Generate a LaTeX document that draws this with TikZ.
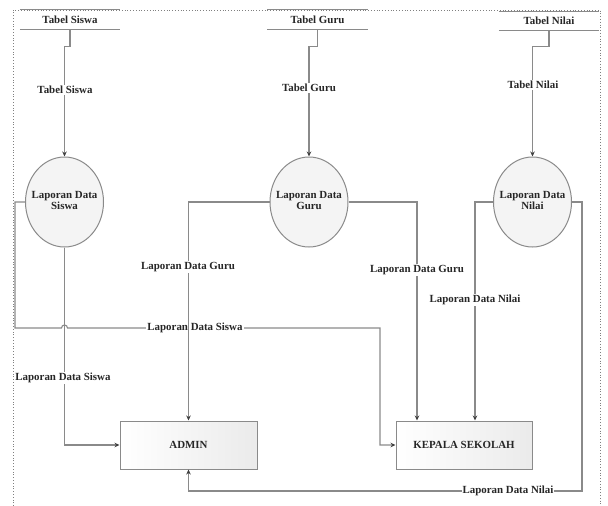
\documentclass[tikz,border=0pt]{standalone}
\usepackage{fontspec}
\setmainfont{Liberation Serif}
\usetikzlibrary{arrows.meta,shapes.geometric}
\definecolor{ln}{HTML}{8A8A8A}
\definecolor{tip}{HTML}{404040}
\newcommand{\proctext}[2]{\makebox[0pt][c]{\begin{tabular}{@{}c@{}}#1\\[-1pt]#2\end{tabular}}}
\begin{document}
\begin{tikzpicture}[x=1pt,y=-1pt,
  every node/.style={font=\fontsize{10.9}{12}\selectfont\bfseries, text=black!85},
  storebox/.style={minimum width=100pt, minimum height=19pt, inner sep=0pt},
  procbox/.style={ellipse, draw=ln, line width=1pt, fill=gray!9, minimum width=78pt, minimum height=90pt, inner sep=0pt},
  entbox/.style={rectangle, draw=ln, line width=1pt, left color=white, right color=gray!16, minimum width=137pt, minimum height=48pt, inner sep=0pt},
  flow/.style={draw=ln, line width=1.1pt, -{Stealth[length=5pt,width=4.5pt,color=tip]}},
  lbl/.style={fill=white, inner sep=1pt},
  storeline/.style={draw=ln, line width=1.1pt}]
\useasboundingbox (0,0) rectangle (608,506);
% border
\draw[gray, dotted, line width=0.8pt] (13,506) -- (13,10) -- (600,10) -- (600,506);
% stores
\node[storebox] (ts) at (70,19.5) {Tabel Siswa};
\node[storebox] (tg) at (317.5,19.5) {Tabel Guru};
\node[storebox] (tn) at (549,21) {Tabel Nilai};
\foreach \s in {ts,tg,tn}{
  \draw[storeline] (\s.north west) -- (\s.north east);
  \draw[storeline] (\s.south west) -- (\s.south east);
}
% processes
\node[procbox] (ps) at (64.5,202) {\proctext{Laporan Data}{Siswa}};
\node[procbox] (pg) at (309,202) {\proctext{Laporan Data}{Guru}};
\node[procbox] (pn) at (532.5,202) {\proctext{Laporan Data}{Nilai}};
% entities
\node[entbox] (ad) at (188.5,445) {ADMIN};
\node[entbox, minimum width=136pt] (kp) at (464,445) {KEPALA SEKOLAH};
% store -> process
\draw[flow] (ts.south) -- ++(0,17) -| (ps.north);
\draw[flow] (tg.south) -- ++(0,17) -| (pg.north);
\draw[flow] (tn.south) -- ++(0,16) -| (pn.north);
\node[lbl] at (65,90) {Tabel Siswa};
\node[lbl] at (309,88) {Tabel Guru};
\node[lbl] at (533,85) {Tabel Nilai};
% Siswa -> Kepala (with hop)
\coordinate (s1) at (15,202);
\coordinate (s2) at (15,328);
\coordinate (h1) at (61.5,328);
\coordinate (s3) at (380,328);
\draw[flow] (ps.west) -- (s1) -- (s2) -- (h1) arc (180:360:3) -- (s3) |- (kp.west);
\node[lbl] at (195,328) {Laporan Data Siswa};
% Siswa -> Admin
\draw[flow] (ps.south) |- (ad.west);
\node[lbl] at (63,378) {Laporan Data Siswa};
% Guru -> Admin
\draw[flow] (pg.west) -| (ad.north);
\node[lbl] at (188,267) {Laporan Data Guru};
% Guru -> Kepala
\draw[flow] (pg.east) -| ([xshift=-47pt]kp.north);
\node[lbl] at (417,270) {Laporan Data Guru};
% Nilai -> Kepala
\draw[flow] (pn.west) -| ([xshift=11pt]kp.north);
\node[lbl] at (475,300) {Laporan Data Nilai};
% Nilai -> Admin
\coordinate (n1) at (582,491);
\draw[flow] (pn.east) -| (n1) -| (ad.south);
\node[lbl] at (508,491) {Laporan Data Nilai};
\end{tikzpicture}
\end{document}
